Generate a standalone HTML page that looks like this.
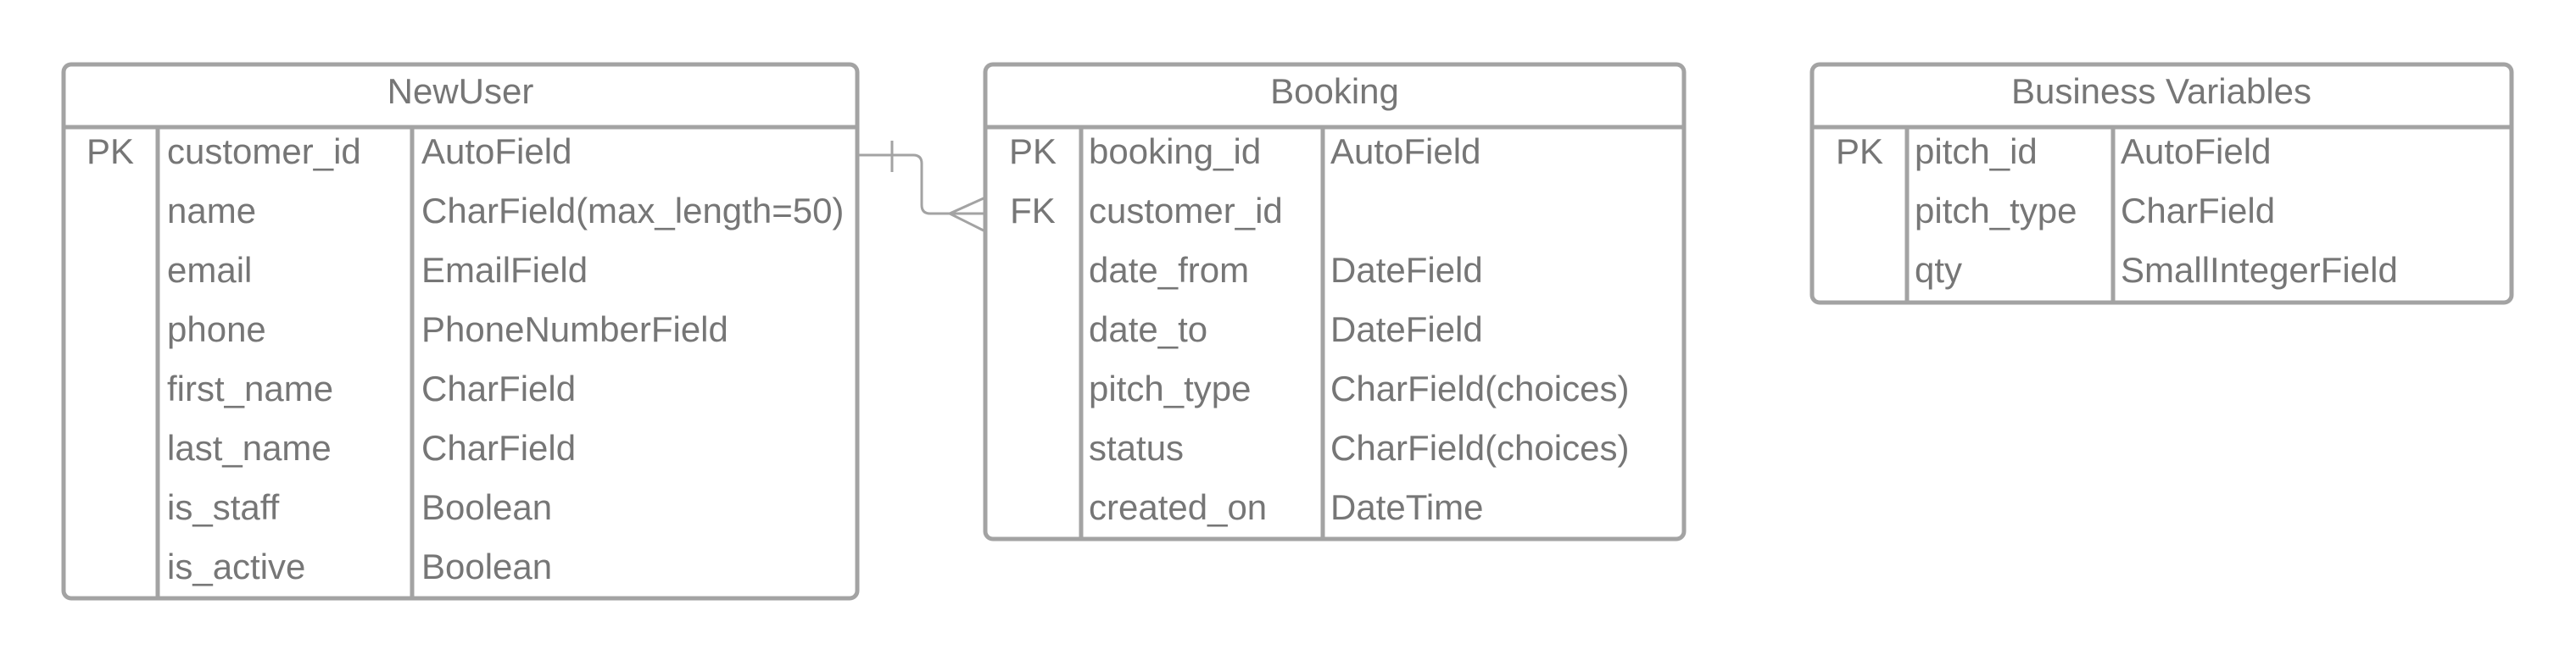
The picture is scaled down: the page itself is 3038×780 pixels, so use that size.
<!DOCTYPE html>
<html><head><meta charset="utf-8"><style>
html,body{margin:0;padding:0;background:#fff;}
svg{display:block}
text{font-family:"Liberation Sans",sans-serif;font-size:42px;fill:#767676;}
</style></head><body>
<svg width="3038" height="780" viewBox="0 0 3038 780" xmlns="http://www.w3.org/2000/svg">
<g fill="none" stroke="#a3a3a3" stroke-width="5">
<rect x="75" y="76" width="936" height="630" rx="9"/>
<line x1="75" y1="150" x2="1011" y2="150"/>
<line x1="186" y1="150" x2="186" y2="706"/>
<line x1="486" y1="150" x2="486" y2="706"/>
<rect x="1162" y="76" width="824" height="560" rx="9"/>
<line x1="1162" y1="150" x2="1986" y2="150"/>
<line x1="1275" y1="150" x2="1275" y2="636"/>
<line x1="1560" y1="150" x2="1560" y2="636"/>
<rect x="2137" y="76" width="825" height="281" rx="9"/>
<line x1="2137" y1="150" x2="2962" y2="150"/>
<line x1="2249" y1="150" x2="2249" y2="357"/>
<line x1="2492" y1="150" x2="2492" y2="357"/>
</g>
<g fill="none" stroke="#a3a3a3" stroke-width="3">
<path d="M1013 183 H1077 Q1087 183 1087 193 V242 Q1087 252 1097 252 H1160"/>
<line x1="1052" y1="166" x2="1052" y2="203"/>
<line x1="1120" y1="252" x2="1160" y2="234"/>
<line x1="1120" y1="252" x2="1160" y2="272"/>
</g>
<text x="543" y="122" text-anchor="middle">NewUser</text>
<text x="130" y="193" text-anchor="middle">PK</text>
<text x="197" y="193">customer_id</text><text x="497" y="193">AutoField</text>
<text x="197" y="263">name</text><text x="497" y="263">CharField(max_length=50)</text>
<text x="197" y="333">email</text><text x="497" y="333">EmailField</text>
<text x="197" y="403">phone</text><text x="497" y="403">PhoneNumberField</text>
<text x="197" y="473">first_name</text><text x="497" y="473">CharField</text>
<text x="197" y="543">last_name</text><text x="497" y="543">CharField</text>
<text x="197" y="613">is_staff</text><text x="497" y="613">Boolean</text>
<text x="197" y="683">is_active</text><text x="497" y="683">Boolean</text>
<text x="1574" y="122" text-anchor="middle">Booking</text>
<text x="1218" y="193" text-anchor="middle">PK</text>
<text x="1218" y="263" text-anchor="middle">FK</text>
<text x="1284" y="193">booking_id</text><text x="1569" y="193">AutoField</text>
<text x="1284" y="263">customer_id</text>
<text x="1284" y="333">date_from</text><text x="1569" y="333">DateField</text>
<text x="1284" y="403">date_to</text><text x="1569" y="403">DateField</text>
<text x="1284" y="473">pitch_type</text><text x="1569" y="473">CharField(choices)</text>
<text x="1284" y="543">status</text><text x="1569" y="543">CharField(choices)</text>
<text x="1284" y="613">created_on</text><text x="1569" y="613">DateTime</text>
<text x="2549" y="122" text-anchor="middle">Business Variables</text>
<text x="2193" y="193" text-anchor="middle">PK</text>
<text x="2258" y="193">pitch_id</text><text x="2501" y="193">AutoField</text>
<text x="2258" y="263">pitch_type</text><text x="2501" y="263">CharField</text>
<text x="2258" y="333">qty</text><text x="2501" y="333">SmallIntegerField</text>
</svg>
</body></html>
